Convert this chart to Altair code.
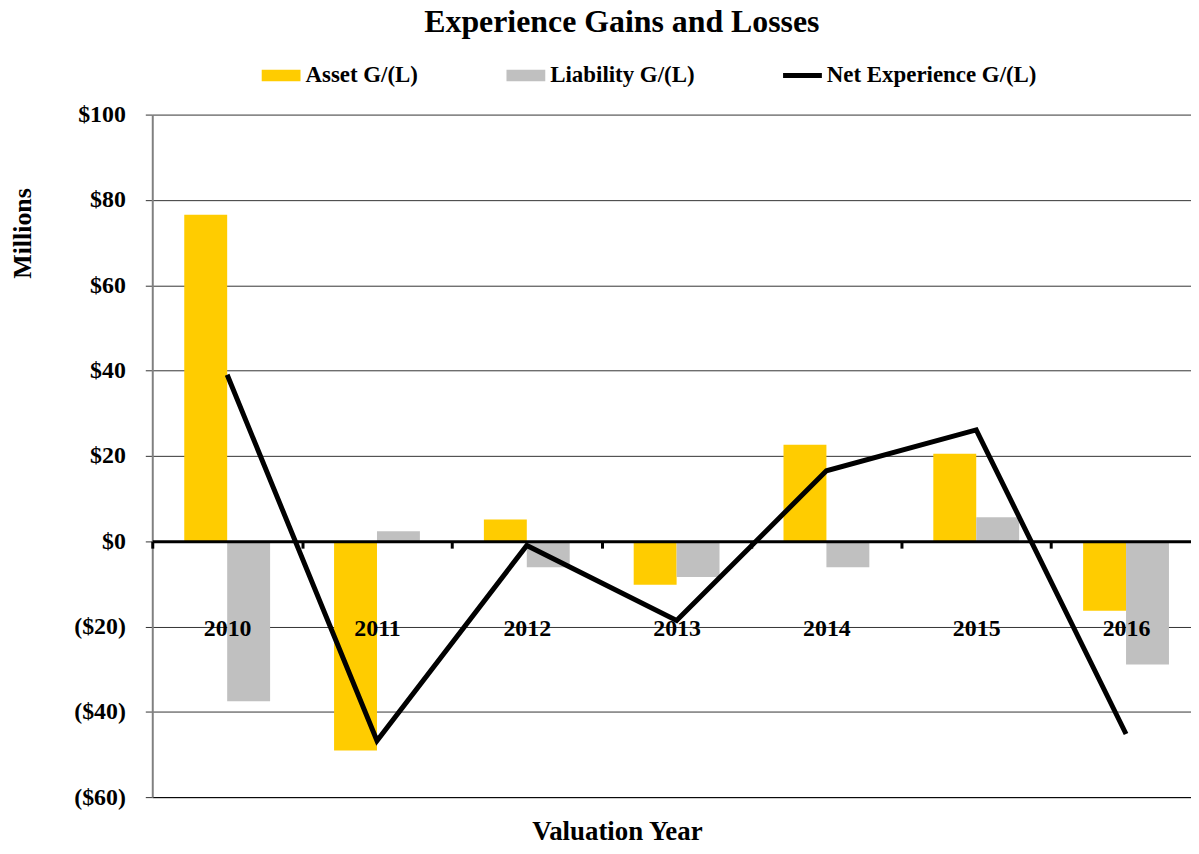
import altair as alt
import pandas as pd

years = ["2010", "2011", "2012", "2013", "2014", "2015", "2016"]
asset = [76.5, -49.1, 5.1, -10.2, 22.6, 20.5, -16.3]
liability = [-37.5, 2.3, -6.1, -8.4, -6.1, 5.6, -28.9]
net = [39.0, -46.8, -1.0, -18.6, 16.5, 26.1, -45.2]
series_names = ["Asset G/(L)", "Liability G/(L)", "Net Experience G/(L)"]
series_colors = ["#FFCC00", "#C0C0C0", "#000000"]
legend_shapes = ["M-1,-0.3H1V0.3H-1Z", "M-1,-0.3H1V0.3H-1Z", "M-1,-0.13H1V0.13H-1Z"]
y_ticks = [-60, -40, -20, 0, 20, 40, 60, 80, 100]

rows = []
for name, vals in zip(series_names, [asset, liability, net]):
    for yr, v in zip(years, vals):
        rows.append({"year": yr, "series": name, "value": v})
df = pd.DataFrame(rows)

FONT = "Liberation Serif"
W, H = 1044, 686
X_RANGE = 1054  # the category axis runs a little past the visible right edge
zero_offset = -(H - H * 100 / 160)
step = X_RANGE / len(years)

legend = alt.Legend(
    title=None,
    orient="none",
    legendX=110,
    legendY=-59,
    direction="horizontal",
    labelFont=FONT,
    labelFontSize=23,
    labelFontWeight="bold",
    labelColor="black",
    labelOffset=5,
    labelLimit=400,
    columnPadding=88,
    symbolSize=1521,
    symbolStrokeWidth=0,
    symbolOpacity=1,
    padding=0,
)

color = alt.Color(
    "series:N",
    scale=alt.Scale(domain=series_names, range=series_colors),
    legend=legend,
)
shape = alt.Shape(
    "series:N",
    scale=alt.Scale(domain=series_names, range=legend_shapes),
    legend=legend,
)

xscale = alt.Scale(domain=years, range=[0, X_RANGE], paddingInner=0.427, paddingOuter=0.2135)

yenc = alt.Y(
    "value:Q",
    scale=alt.Scale(domain=[-60, 100], nice=False, zero=False),
    axis=alt.Axis(
        values=y_ticks,
        labelExpr="datum.value < 0 ? '($' + format(-datum.value, 'd') + ')' : '$' + format(datum.value, 'd')",
        labelFont=FONT,
        labelFontSize=24,
        labelFontWeight="bold",
        labelColor="black",
        labelPadding=20,
        tickSize=7,
        tickColor="#333333",
        tickWidth=1,
        domainColor="#808080",
        domainWidth=2,
        grid=True,
        gridColor="#333333",
        gridWidth=1,
        title="Millions",
        titleFont=FONT,
        titleFontSize=26,
        titleFontWeight="bold",
        titleColor="black",
        titleX=-122,
        titleY=119,
        titleAngle=270,
        titleAlign="center",
        titleBaseline="alphabetic",
    ),
)

zero_axis = alt.Axis(
    orient="bottom",
    offset=zero_offset,
    title=None,
    labelAngle=0,
    labelFont=FONT,
    labelFontSize=24,
    labelFontWeight="bold",
    labelColor="black",
    labelBaseline="top",
    labelPadding=69,
    tickOffset=-step / 2,
    labelOffset=step / 2,
    tickSize=7,
    tickWidth=3,
    tickColor="black",
    domainColor="black",
    domainWidth=3,
    grid=False,
    zindex=1,
)

bottom_axis = alt.Axis(
    orient="bottom",
    offset=0,
    labels=False,
    ticks=False,
    grid=False,
    domainColor="black",
    domainWidth=1,
    title="Valuation Year",
    titleFont=FONT,
    titleFontSize=27,
    titleFontWeight="bold",
    titleColor="black",
    titlePadding=22,
    titleX=467,
)

base = alt.Chart(df)

bars = base.transform_filter(
    alt.FieldOneOfPredicate(field="series", oneOf=series_names[:2])
).mark_bar(strokeWidth=0).encode(
    x=alt.X("year:N", scale=xscale, axis=zero_axis),
    xOffset=alt.XOffset(
        "series:N",
        scale=alt.Scale(domain=series_names[:2], paddingInner=0, paddingOuter=0),
    ),
    y=yenc,
    color=color,
)

line = base.transform_filter(
    alt.FieldEqualPredicate(field="series", equal=series_names[2])
).mark_line(strokeWidth=5).encode(
    x=alt.X("year:N", scale=xscale, axis=bottom_axis),
    y=yenc,
    color=color,
)

# legend-only layer: no rows survive the filter, the legend comes from the scale domains
legend_layer = base.transform_filter("false").mark_point(filled=True, opacity=1).encode(
    x=alt.X("year:N", scale=xscale, axis=None),
    y=yenc,
    color=color,
    shape=shape,
)

chart = (
    alt.layer(bars, line, legend_layer)
    .resolve_axis(x="independent")
    .properties(
        width=W,
        height=H,
        padding={"left": 145, "top": 105, "right": 0, "bottom": 47},
        autosize=alt.AutoSizeParams(type="none"),
        background="white",
        title=alt.TitleParams(
            "Experience Gains and Losses",
            font=FONT,
            fontSize=32,
            fontWeight="bold",
            color="black",
            anchor="middle",
            dx=-50,
            offset=17,
        ),
    )
    .configure_view(stroke=None)
)

chart.save("out.html", embed_options={"renderer": "svg", "actions": False})
